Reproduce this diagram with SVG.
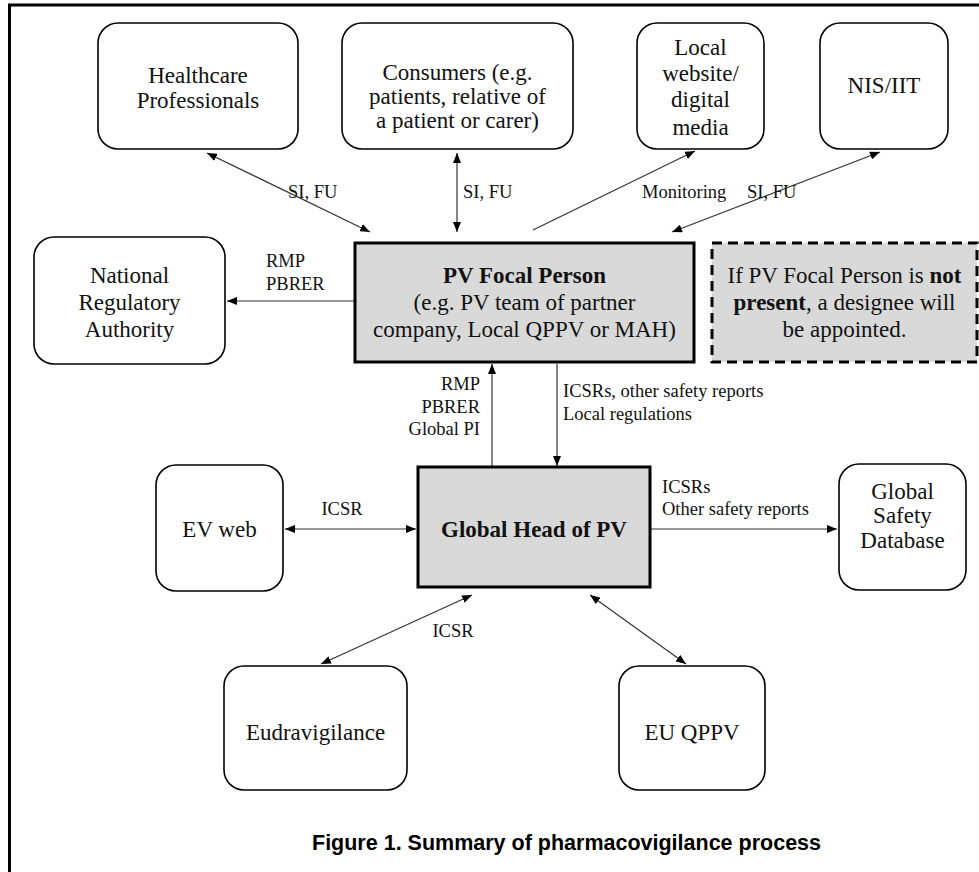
<svg xmlns="http://www.w3.org/2000/svg" width="979" height="872" viewBox="0 0 979 872">
<style>
.nd{fill:#fff;stroke:#000;stroke-width:1.6}
.hub{fill:#d9d9d9;stroke:#000;stroke-width:3}
.dash{fill:#d9d9d9;stroke:#000;stroke-width:3;stroke-dasharray:10 6}
.t{font-family:"Liberation Serif","Times New Roman",serif;font-size:23px;fill:#111;text-anchor:middle}
.b{font-weight:bold}
.l{font-family:"Liberation Serif","Times New Roman",serif;font-size:18.5px;fill:#111}
.e{stroke:#333;stroke-width:1.2;fill:none}
.cap{font-family:"Liberation Sans",Arial,sans-serif;font-size:21.5px;font-weight:bold;fill:#000}
</style>
<defs>
<marker id="ah" viewBox="0 0 10 8" refX="10" refY="4" markerWidth="10" markerHeight="8" markerUnits="userSpaceOnUse" orient="auto-start-reverse">
<path d="M0,0 L10,4 L0,8 z" fill="#000"/>
</marker>
</defs>
<rect width="979" height="872" fill="#fff"/>
<g id="frame">
<line x1="8" y1="5" x2="979" y2="5" stroke="#000" stroke-width="3"/>
<line x1="9.5" y1="4" x2="9.5" y2="872" stroke="#000" stroke-width="3"/>
</g>
<g id="connectors">
<line class="e" x1="207" y1="153" x2="370" y2="232" marker-start="url(#ah)" marker-end="url(#ah)"/>
<line class="e" x1="457" y1="153" x2="457" y2="232" marker-start="url(#ah)" marker-end="url(#ah)"/>
<line class="e" x1="533" y1="230" x2="695" y2="151" marker-end="url(#ah)"/>
<line class="e" x1="880" y1="152" x2="672" y2="232" marker-start="url(#ah)" marker-end="url(#ah)"/>
<line class="e" x1="355" y1="301" x2="227" y2="301" marker-end="url(#ah)"/>
<line class="e" x1="492" y1="467" x2="492" y2="364" marker-end="url(#ah)"/>
<line class="e" x1="557" y1="364" x2="557" y2="466" marker-end="url(#ah)"/>
<line class="e" x1="285" y1="529" x2="416" y2="529" marker-start="url(#ah)" marker-end="url(#ah)"/>
<line class="e" x1="650" y1="529" x2="837" y2="529" marker-end="url(#ah)"/>
<line class="e" x1="472" y1="595" x2="321" y2="664" marker-start="url(#ah)" marker-end="url(#ah)"/>
<line class="e" x1="590" y1="595" x2="686" y2="664" marker-start="url(#ah)" marker-end="url(#ah)"/>
<text class="l" x="288" y="198">SI, FU</text>
<text class="l" x="463" y="198">SI, FU</text>
<text class="l" x="642" y="198">Monitoring</text>
<text class="l" x="747" y="198">SI, FU</text>
<text class="l" x="266" y="267">RMP</text>
<text class="l" x="266" y="290">PBRER</text>
<text class="l" x="480" y="390" text-anchor="end">RMP</text>
<text class="l" x="480" y="413" text-anchor="end">PBRER</text>
<text class="l" x="480" y="435" text-anchor="end">Global PI</text>
<text class="l" x="563" y="397">ICSRs, other safety reports</text>
<text class="l" x="563" y="420">Local regulations</text>
<text class="l" x="342" y="515" text-anchor="middle">ICSR</text>
<text class="l" x="662" y="493">ICSRs</text>
<text class="l" x="662" y="515">Other safety reports</text>
<text class="l" x="453" y="637" text-anchor="middle">ICSR</text>
</g>
<g id="hcp">
<rect class="nd" x="98" y="23" width="200" height="126" rx="20"/>
<text class="t" x="198" y="83">Healthcare</text>
<text class="t" x="198" y="108">Professionals</text>
</g>
<g id="consumers">
<rect class="nd" x="342" y="23" width="231" height="126" rx="20"/>
<text class="t" x="457.5" y="80">Consumers (e.g.</text>
<text class="t" x="457.5" y="104">patients, relative of</text>
<text class="t" x="457.5" y="128">a patient or carer)</text>
</g>
<g id="website">
<rect class="nd" x="637" y="23" width="127" height="126" rx="20"/>
<text class="t" x="700.5" y="55">Local</text>
<text class="t" x="700.5" y="81">website/</text>
<text class="t" x="700.5" y="107">digital</text>
<text class="t" x="700.5" y="135">media</text>
</g>
<g id="nis">
<rect class="nd" x="820" y="23" width="128" height="126" rx="20"/>
<text class="t" x="884" y="93">NIS/IIT</text>
</g>
<g id="nra">
<rect class="nd" x="34" y="237" width="191" height="127" rx="20"/>
<text class="t" x="129.5" y="283">National</text>
<text class="t" x="129.5" y="310">Regulatory</text>
<text class="t" x="129.5" y="337">Authority</text>
</g>
<g id="pvfocal">
<rect class="hub" x="355" y="243" width="339" height="119"/>
<text class="t b" x="524.5" y="283">PV Focal Person</text>
<text class="t" x="524.5" y="310">(e.g. PV team of partner</text>
<text class="t" x="524.5" y="337">company, Local QPPV or MAH)</text>
</g>
<g id="note">
<rect class="dash" x="712" y="243" width="265" height="119"/>
<text class="t" x="844.5" y="283">If PV Focal Person is <tspan class="b">not</tspan></text>
<text class="t" x="844.5" y="310"><tspan class="b">present</tspan>, a designee will</text>
<text class="t" x="844.5" y="337">be appointed.</text>
</g>
<g id="evweb">
<rect class="nd" x="156" y="465" width="127" height="126" rx="20"/>
<text class="t" x="219.5" y="537">EV web</text>
</g>
<g id="globalhead">
<rect class="hub" x="418" y="467" width="232" height="120"/>
<text class="t b" x="534" y="537">Global Head of PV</text>
</g>
<g id="gsdb">
<rect class="nd" x="839" y="464" width="127" height="126" rx="20"/>
<text class="t" x="902.5" y="499">Global</text>
<text class="t" x="902.5" y="523">Safety</text>
<text class="t" x="902.5" y="548">Database</text>
</g>
<g id="eudra">
<rect class="nd" x="224" y="666" width="183" height="124" rx="20"/>
<text class="t" x="315.5" y="740">Eudravigilance</text>
</g>
<g id="euqppv">
<rect class="nd" x="619" y="666" width="146" height="124" rx="20"/>
<text class="t" x="692" y="740">EU QPPV</text>
</g>
<text class="cap" x="312" y="850">Figure 1.  Summary of pharmacovigilance process</text>
</svg>
